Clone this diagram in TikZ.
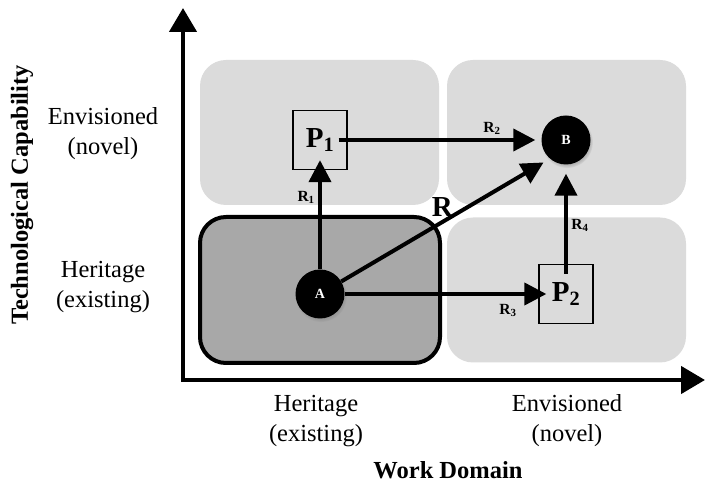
\documentclass[tikz,border=0pt]{standalone}
\usepackage{fontspec}
\setmainfont{Liberation Serif}
\usetikzlibrary{arrows.meta,shadows}

\begin{document}
\begin{tikzpicture}[x=1pt, y=-1pt,
        region/.style={fill=black!14, rounded corners=26pt, minimum width=239pt, minimum height=145pt},
        state/.style={circle, fill=black, text=white, minimum size=49pt, inner sep=0pt,
            font=\fontsize{14}{14}\selectfont\bfseries,
            circular drop shadow={shadow scale=1.06, shadow xshift=1pt, shadow yshift=-2pt, opacity=.45}},
        proto/.style={draw, line width=1.3pt, minimum width=54pt, minimum height=59pt, inner sep=0pt,
            font=\fontsize{29}{29}\selectfont\bfseries},
        route/.style={line width=4pt, -{Triangle[length=22pt, width=22pt]}},
        rlabel/.style={font=\fontsize{15.5}{15.5}\selectfont\bfseries},
        axis/.style={line width=4.5pt, {Triangle[length=24pt, width=27pt]}-{Triangle[length=24pt, width=27pt]}},
        tick/.style={align=center, font=\fontsize{24.5}{30}\selectfont},
        title/.style={font=\fontsize{24.5}{24.5}\selectfont\bfseries}]
        \useasboundingbox (0,0) rectangle (705,486);

        % the four quadrants
        \node[region] (tl) at (319.5,132.5) {};
        \node[region] (tr) at (566.5,132.5) {};
        \node[region] (br) at (566.5,290) {};
        \node[region, draw, line width=4pt, fill=black!34, minimum width=240pt, minimum height=146pt] (bl) at (320,290) {};

        \coordinate (ytop) at (183,8);
        \coordinate (origin) at (183,380);
        \coordinate (xend) at (705,380);
        \draw[axis] (ytop) -- (origin) -- (xend);

        \node[state] (A) at (320,294) {A};
        \node[state] (B) at (566,140) {B};
        \node[proto] (P1) at (320,140) {P\textsubscript{1}};
        \node[proto] (P2) at (566,294) {P\textsubscript{2}};

        \draw[route]
            (A) -- node[rlabel, pos=0.66, left] (r1) {R\textsubscript{1}} ([yshift=10pt]P1.south);
        \draw[route]
            ([xshift=-9pt]P1.east) -- node[rlabel, pos=0.78, above] (r2) {R\textsubscript{2}} ([xshift=-6pt]B.west);
        \draw[route]
            (A) -- node[rlabel, pos=0.81, below=5pt] (r3) {R\textsubscript{3}} ([xshift=8pt]P2.west);
        \draw[route]
            ([yshift=-10pt]P2.north) -- node[rlabel, pos=0.48, right] (r4) {R\textsubscript{4}} ([yshift=-9pt]B.south);
        \draw[route]
            (A) -- node[pos=0.5, above, font=\fontsize{29}{29}\selectfont\bfseries] (r) {R} ([xshift=-5pt, yshift=-5pt]B.225);

        \node[tick] (yhi) at (103,134) {Envisioned\\(novel)};
        \node[tick] (ylo) at (103,287) {Heritage\\(existing)};
        \node[tick] (xlo) at (316,421) {Heritage\\(existing)};
        \node[tick] (xhi) at (567,421) {Envisioned\\(novel)};

        \node[title] (xtitle) at (448,470) {Work Domain};
        \node[title, rotate=90] (ytitle) at (22,195) {Technological Capability};
    \end{tikzpicture}
\end{document}
